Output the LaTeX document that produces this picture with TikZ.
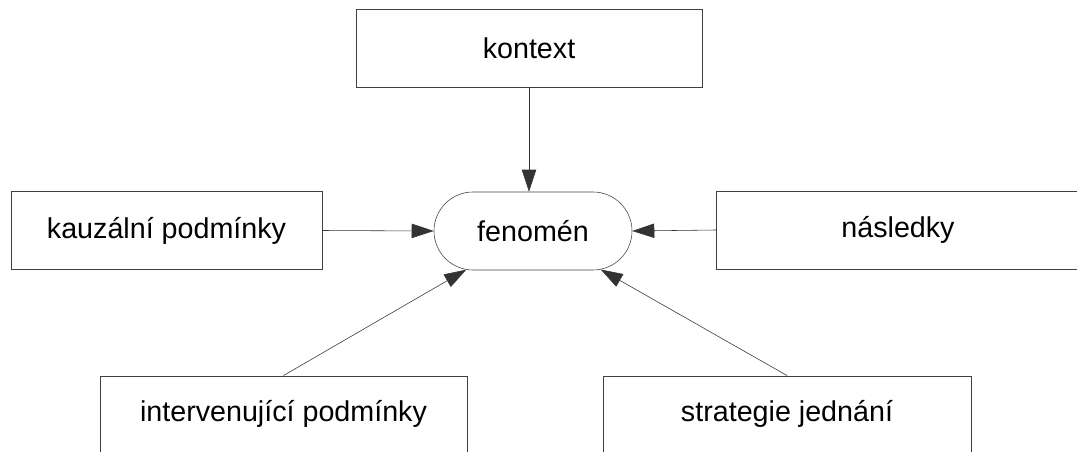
\documentclass[tikz,border=0pt]{standalone}
\usepackage{fontspec}
\setmainfont{Liberation Sans}
\usetikzlibrary{arrows.meta,shapes.misc}
\begin{document}
\begin{tikzpicture}[line cap=round,
  box/.style={draw=black!75,thin,minimum height=1.95cm,inner sep=0pt},
  oval/.style={draw=black!75,thin,rounded rectangle,minimum width=4.95cm,minimum height=1.95cm,inner sep=0pt},
  arr/.style={draw=black!80,thin,-{Triangle[length=0.55cm,width=0.36cm]}},
  font=\fontsize{20.4}{24}\selectfont]
\useasboundingbox (0,0) rectangle (26.925,11.275);
\node[box,minimum width=8.65cm] (kontext) at (13.225,10.075) {kontext};
\node[oval] (fenomen) at (13.325,5.5) {fenomén};
\node[box,minimum width=7.775cm] (kauzalni) at (4.1625,5.5125) {kauzální podmínky};
\node[box,minimum width=9.1cm] (nasledky) at (22.45,5.525) {následky};
\node[box,minimum width=9.175cm,minimum height=1.9cm] (intervenujici) at (7.0875,0.93) {intervenující podmínky};
\node[box,minimum width=9.2cm,minimum height=1.9cm] (strategie) at (19.675,0.93) {strategie jednání};
%\draw[step=1cm,very thin,color=gray] (0,0) grid (27,11);
\draw[arr] (kontext.south) -- (kontext.south |- fenomen.north);
\draw[arr] (kauzalni.east) -- (fenomen.west);
\draw[arr] (nasledky.west) -- (fenomen.east);
\draw[arr] (intervenujici.north) -- (fenomen);
\draw[arr] (strategie.north) -- (fenomen);
\end{tikzpicture}
\end{document}
